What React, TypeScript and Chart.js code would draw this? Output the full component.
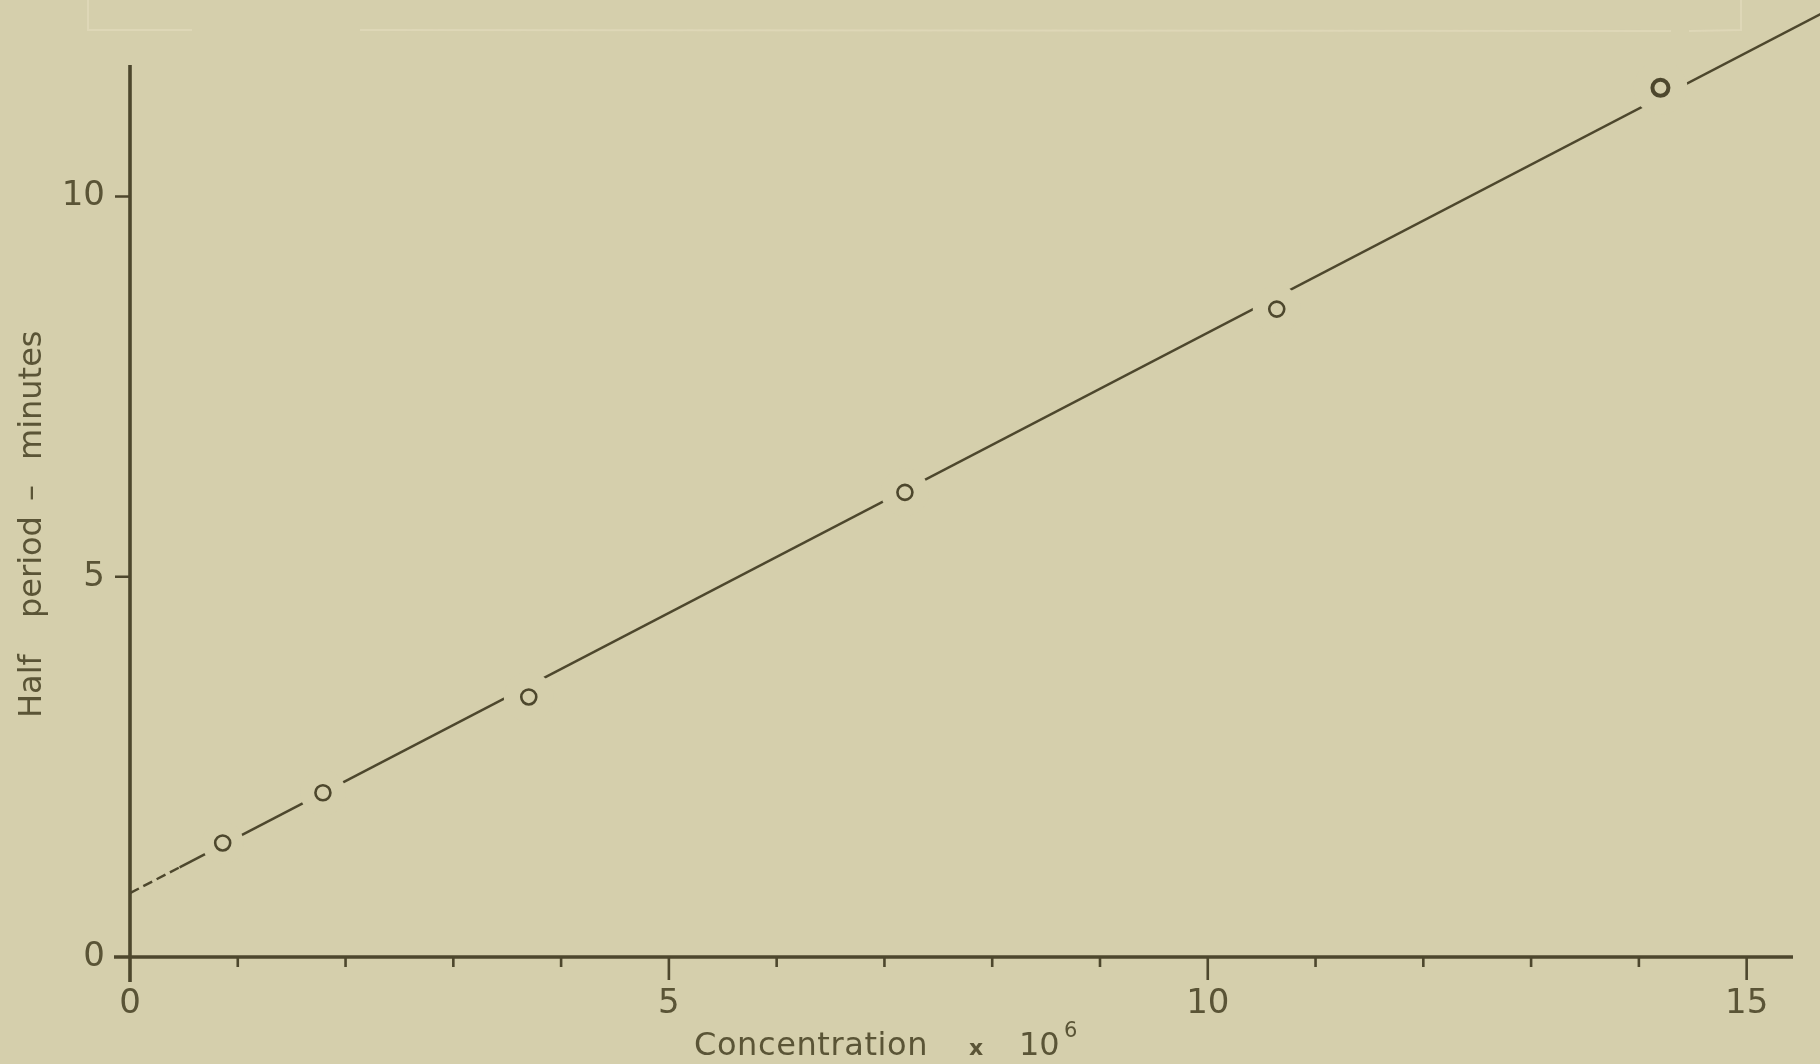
import React, { useEffect, useRef } from 'react';
import { Chart, registerables } from 'chart.js';

Chart.register(...registerables);

// ---- data ----
const concentration = [0.86, 1.79, 3.7, 7.19, 10.64, 14.2];
const halfPeriod = [1.5, 2.16, 3.42, 6.11, 8.52, 11.43];
const fitDashedX = [0, 0.46];
const fitDashedY = [0.84, 1.18];
const fitSolidX = [0.46, 15.7];
const fitSolidY = [1.18, 12.41];
const xTickLabels = [0, 5, 10, 15];
const yTickLabels = [0, 5, 10];
const xMinorTicks = [1, 2, 3, 4, 6, 7, 8, 9, 11, 12, 13, 14];
const xAxisMax = 15.43;
const yAxisMax = 11.73;

// ---- styles ----
const BG = '#d5cfac';
const INK = '#4d472d';
const TEXT = '#5a5436';
const FONT = "'DejaVu Sans'";

const pointRadii = [7.5, 7.5, 7.5, 7.5, 7.5, 8];
const pointBorders = [2.6, 2.6, 2.6, 2.6, 2.6, 4];
const haloRadii = [21, 23, 25, 24, 24, 27];

const decor = {
  id: 'decor',
  beforeDraw(chart: any) {
    const ctx = chart.ctx as CanvasRenderingContext2D;
    ctx.save();
    ctx.strokeStyle = 'rgba(232,224,198,0.45)';
    ctx.lineWidth = 2;
    ctx.beginPath();
    ctx.moveTo(88, 0);
    ctx.lineTo(88, 30);
    ctx.lineTo(192, 30);
    ctx.moveTo(360, 30);
    ctx.lineTo(1671, 31);
    ctx.moveTo(1689, 31);
    ctx.lineTo(1741, 30);
    ctx.lineTo(1741, 0);
    ctx.stroke();
    ctx.restore();
  },
  afterDraw(chart: any) {
    const ctx = chart.ctx as CanvasRenderingContext2D;
    const xs = chart.scales.x;
    const ys = chart.scales.y;
    const x0 = xs.getPixelForValue(0);
    const y0 = ys.getPixelForValue(0);
    const xEnd = xs.getPixelForValue(xAxisMax);
    const yTop = ys.getPixelForValue(yAxisMax);
    ctx.save();
    ctx.strokeStyle = INK;
    ctx.lineCap = 'butt';
    // axes
    ctx.lineWidth = 3.6;
    ctx.beginPath();
    ctx.moveTo(x0 - 16, y0);
    ctx.lineTo(xEnd, y0);
    ctx.moveTo(x0, yTop);
    ctx.lineTo(x0, y0 + 25);
    ctx.stroke();
    // x ticks
    ctx.lineWidth = 2.6;
    ctx.beginPath();
    for (const v of xMinorTicks) {
      const px = xs.getPixelForValue(v);
      ctx.moveTo(px, y0);
      ctx.lineTo(px, y0 + 10);
    }
    for (const v of xTickLabels) {
      if (v === 0) continue;
      const px = xs.getPixelForValue(v);
      ctx.moveTo(px, y0);
      ctx.lineTo(px, y0 + 23);
    }
    // y ticks
    for (const v of yTickLabels) {
      if (v === 0) continue;
      const py = ys.getPixelForValue(v);
      ctx.moveTo(x0 - 15, py);
      ctx.lineTo(x0, py);
    }
    ctx.stroke();

    // x title
    ctx.fillStyle = TEXT;
    ctx.textAlign = 'left';
    ctx.textBaseline = 'alphabetic';
    try { (ctx as any).letterSpacing = '0.6px'; } catch (e) {}
    ctx.font = `32px ${FONT}`;
    ctx.fillText('Concentration', 694, 1055);
    try { (ctx as any).letterSpacing = '0px'; } catch (e) {}
    ctx.font = `bold 22px ${FONT}`;
    ctx.fillText('x', 969, 1055);
    ctx.font = `32px ${FONT}`;
    ctx.fillText('10', 1019, 1055);
    ctx.font = `21px ${FONT}`;
    ctx.fillText('6', 1064, 1037);

    // y title, word by word, rotated
    const words: [string, number][] = [
      ['Half', 718],
      ['period', 618],
      ['\u2013', 501],
      ['minutes', 460],
    ];
    ctx.font = `32px ${FONT}`;
    for (const [w, s] of words) {
      ctx.save();
      ctx.translate(41, s);
      ctx.rotate(-Math.PI / 2);
      ctx.fillText(w, 0, 0);
      ctx.restore();
    }
    ctx.restore();
  },
};

export default function App() {
  const ref = useRef<HTMLCanvasElement | null>(null);

  useEffect(() => {
    document.body.style.margin = '0';
    document.body.style.background = BG;
    const canvas = ref.current;
    if (!canvas) return;
    const pts = concentration.map((c, i) => ({ x: c, y: halfPeriod[i] }));
    const dashed = fitDashedX.map((v, i) => ({ x: v, y: fitDashedY[i] }));
    const solid = fitSolidX.map((v, i) => ({ x: v, y: fitSolidY[i] }));

    const chart = new Chart(canvas, {
      type: 'scatter',
      data: {
        datasets: [
          {
            label: 'measured',
            data: pts,
            showLine: false,
            pointRadius: pointRadii,
            pointBorderWidth: pointBorders,
            pointBorderColor: INK,
            pointBackgroundColor: 'rgba(0,0,0,0)',
            order: 0,
          } as any,
          {
            label: 'halo',
            data: pts,
            showLine: false,
            pointRadius: haloRadii,
            pointBorderWidth: 0,
            pointBorderColor: BG,
            pointBackgroundColor: BG,
            order: 1,
          } as any,
          {
            label: 'fit',
            data: solid,
            showLine: true,
            borderColor: INK,
            borderWidth: 2.5,
            pointRadius: 0,
            clip: false,
            order: 2,
          } as any,
          {
            label: 'extrapolation',
            data: dashed,
            showLine: true,
            borderColor: INK,
            borderWidth: 2.4,
            borderDash: [10, 5],
            pointRadius: 0,
            clip: false,
            order: 3,
          } as any,
        ],
      },
      options: {
        animation: false,
        responsive: false,
        events: [],
        layout: { padding: { left: 0, right: 26, top: 65, bottom: 0 } },
        plugins: {
          legend: { display: false },
          tooltip: { enabled: false },
          title: { display: false },
        },
        scales: {
          x: {
            type: 'linear',
            min: 0,
            max: xAxisMax,
            afterFit: (s: any) => {
              s.height = 107;
            },
            afterBuildTicks: (s: any) => {
              s.ticks = xTickLabels.map((v) => ({ value: v }));
            },
            grid: { display: false, drawTicks: false },
            border: { display: false },
            ticks: {
              autoSkip: false,
              maxRotation: 0,
              padding: 27,
              color: TEXT,
              font: { family: 'DejaVu Sans', size: 34 },
              callback: (v: any) => String(v),
            },
          },
          y: {
            type: 'linear',
            min: 0,
            max: yAxisMax,
            afterFit: (s: any) => {
              s.width = 130;
            },
            afterBuildTicks: (s: any) => {
              s.ticks = yTickLabels.map((v) => ({ value: v }));
            },
            grid: { display: false, drawTicks: false },
            border: { display: false },
            ticks: {
              autoSkip: false,
              padding: 25,
              color: TEXT,
              font: { family: 'DejaVu Sans', size: 34 },
              callback: (v: any) => String(v),
            },
          },
        },
      } as any,
      plugins: [decor],
    });
    return () => chart.destroy();
  }, []);

  return (
    <div style={{ position: 'fixed', left: 0, top: 0, width: 1820, height: 1064, background: BG }}>
      <canvas ref={ref} width={1820} height={1064} style={{ display: 'block' }} />
    </div>
  );
}
